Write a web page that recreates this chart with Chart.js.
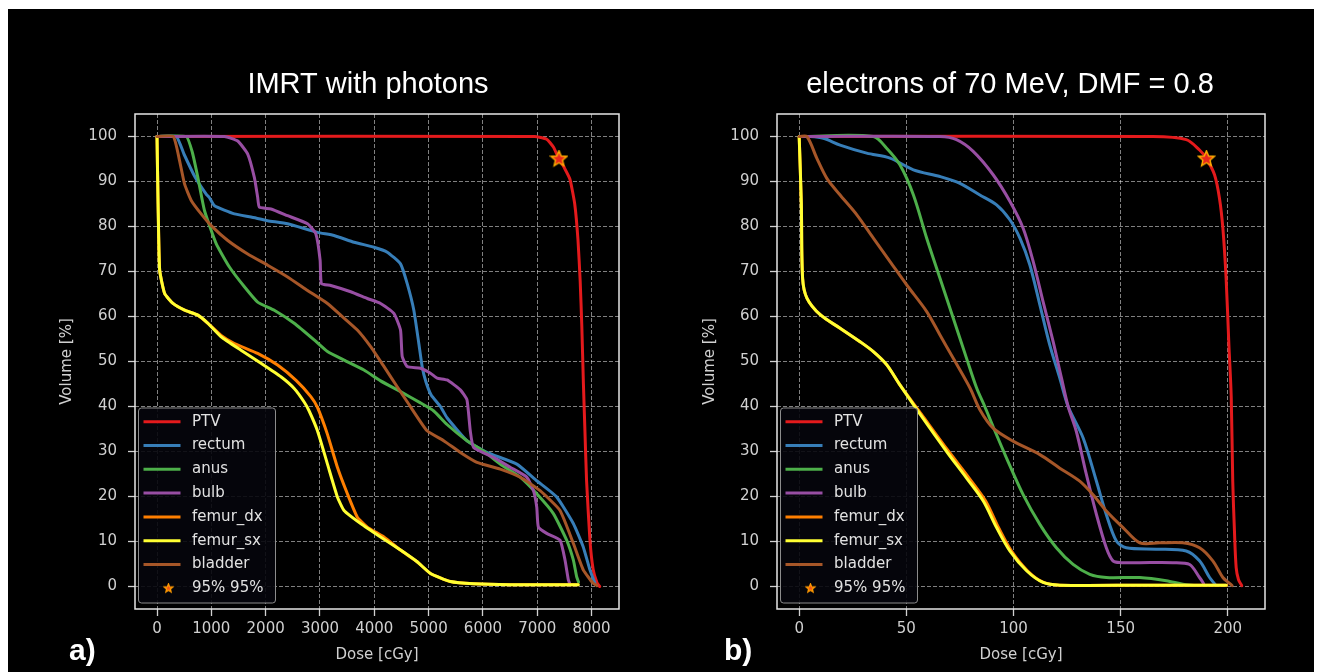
<!DOCTYPE html>
<html>
<head>
<meta charset="utf-8">
<title>DVH: IMRT photons vs 70 MeV electrons</title>
<script src="https://cdn.jsdelivr.net/npm/chart.js@4.4.1/dist/chart.umd.min.js"></script>
<style>
  html, body { margin: 0; padding: 0; background: #fff; overflow: hidden; }
  #frame { position: absolute; left: 8px; top: 9px; width: 1306px; height: 663px; background: #000; }
  canvas { position: absolute; }
  #chartA { left: 10px; top: 10px; }
  #chartB { left: 700px; top: 10px; }
  .tag { position: absolute; color: #fff; font: bold 30px "Liberation Sans", Arial, sans-serif; line-height: 30px; }
</style>
</head>
<body>
<div id="frame"></div>
<canvas id="chartA" width="716" height="662"></canvas>
<canvas id="chartB" width="620" height="662"></canvas>
<div class="tag" style="left:69px;top:635px">a)</div>
<div class="tag" style="left:724px;top:635px">b)</div>
<script>
// organs and colours (same in both panels)
const organs = ['PTV', 'rectum', 'anus', 'bulb', 'femur_dx', 'femur_sx', 'bladder'];
const organColors = ['#e41a1c', '#377eb8', '#4daf4a', '#984ea3', '#ff7f00', '#ffff33', '#a65628'];
const starLabel = '95% 95%';

// tick labels
const volumeTicks = [0, 10, 20, 30, 40, 50, 60, 70, 80, 90, 100];
const doseTicksA = [0, 1000, 2000, 3000, 4000, 5000, 6000, 7000, 8000];
const doseTicksB = [0, 50, 100, 150, 200];

// a) IMRT with photons -- dose [cGy], volume [%]
const ptvDoseA = [0, 6950, 7174, 7300, 7390, 7500, 7602, 7690, 7750, 7790, 7820, 7850, 7878, 7908, 7970, 8030, 8100, 8150];
const ptvVolA = [100, 100, 99.4, 97.6, 95.3, 93, 90.5, 85, 77, 68, 58, 45, 34.5, 23.5, 10.3, 3.7, 0.8, 0];
const rectumDoseA = [0, 355, 500, 700, 905, 960, 1058, 1425, 1731, 2037, 2404, 2954, 3260, 3627, 3994, 4239, 4483, 4606, 4728, 4820, 4881, 4950, 5050, 5217, 5339, 5706, 6073, 6624, 6991, 7358, 7664, 7847, 7970, 8062];
const rectumVolA = [100, 100, 96, 91, 87.2, 86.5, 84.6, 82.8, 82.1, 81.3, 80.6, 78.7, 78, 76.5, 75.4, 74.3, 71.7, 67.3, 61.4, 54, 48.9, 45.5, 42.5, 40, 37.5, 32.4, 29.8, 27.2, 23.5, 19.9, 14, 8.8, 3.7, 0.7];
const anusDoseA = [0, 538, 650, 752, 875, 1089, 1333, 1609, 1853, 2159, 2526, 2893, 3138, 3443, 3810, 4116, 4483, 4850, 5095, 5339, 5706, 6012, 6318, 6685, 6991, 7297, 7541, 7664, 7725, 7760];
const anusVolA = [100, 100, 96.5, 90.9, 83.5, 76.2, 71, 66.6, 63.2, 61.4, 58.5, 54.8, 52.2, 50.3, 48.1, 45.7, 43.3, 40.8, 39, 36, 32.4, 30.1, 27.2, 24.3, 20.6, 16.2, 10.3, 5.9, 2.2, 1];
const bulbDoseA = [0, 1242, 1486, 1670, 1792, 1853, 1884, 2098, 2404, 2771, 2924, 3003, 3027, 3199, 3566, 3872, 4116, 4361, 4483, 4514, 4606, 4850, 5034, 5156, 5339, 5584, 5706, 5767, 5829, 6196, 6502, 6807, 6930, 6991, 7021, 7174, 7419, 7511, 7572, 7600];
const bulbVolA = [100, 100, 99, 96.1, 90.9, 86.5, 84.3, 83.9, 82.4, 80.6, 78.4, 72.5, 67.3, 66.9, 65.5, 64, 62.9, 60.7, 57, 51.1, 48.9, 48.5, 47.4, 46.3, 45.9, 43.7, 41.5, 34.6, 30.9, 28.7, 26.5, 24.3, 21.3, 17.6, 13.2, 11.8, 10.3, 5.9, 1.5, 0.5];
const femurDxDoseA = [0, 20, 49, 141, 294, 508, 752, 936, 1180, 1425, 1853, 2220, 2560, 2832, 2954, 3138, 3321, 3505, 3688, 3872, 4177, 4483, 4789, 5034, 5401, 5829, 6500, 7750];
const femurDxVolA = [100, 85, 70.3, 65.1, 62.9, 61.4, 60.3, 58.5, 55.8, 54, 51.8, 49.2, 45.8, 42.2, 39.8, 33.8, 26.5, 20.6, 15.4, 13.2, 11, 8.1, 5.5, 2.9, 1.1, 0.6, 0.4, 0.4];
const femurSxDoseA = [0, 20, 49, 141, 294, 508, 752, 936, 1180, 1547, 1914, 2281, 2526, 2709, 2801, 2954, 3138, 3321, 3443, 3749, 4116, 4483, 4789, 5034, 5401, 5829, 6500, 7755];
const femurSxVolA = [100, 85, 70.3, 65.1, 62.9, 61.4, 60.3, 58.5, 55.5, 52.5, 49.6, 46.6, 44, 41, 39, 34.6, 27.2, 19.9, 16.9, 14, 11, 8.1, 5.5, 2.9, 1.1, 0.6, 0.4, 0.4];
const bladderDoseA = [0, 300, 416, 508, 630, 813, 997, 1303, 1670, 2037, 2404, 2771, 3138, 3382, 3688, 3933, 4177, 4422, 4636, 4972, 5278, 5584, 5890, 6318, 6685, 7052, 7419, 7664, 7847, 8030, 8100];
const bladderVolA = [100, 100, 94.6, 89.4, 85.8, 82.8, 80.2, 76.9, 73.9, 71.4, 68.8, 65.8, 62.9, 60.3, 57, 53.3, 48.9, 44.4, 40.5, 34.6, 32.4, 29.8, 27.6, 26.1, 24.3, 21.3, 16.9, 9.6, 3.7, 0.7, 0.2];
const starA = [7400, 95];

// b) electrons of 70 MeV, DMF = 0.8
const ptvDoseB = [0, 165, 180.6, 186.8, 189.9, 193.8, 196.1, 197.7, 199.2, 200.5, 201.6, 202.3, 203.1, 203.9, 205, 206.5];
const ptvVolB = [100, 100, 99.3, 97, 95.2, 91.5, 86.3, 79.6, 68.5, 53.7, 42, 23.4, 12.3, 4.2, 1.5, 0.2];
const rectumDoseB = [0, 5, 11.3, 19.1, 31.5, 42.4, 53.3, 65.7, 75, 84.3, 92.1, 98.3, 103, 107.6, 112.3, 116.9, 121.6, 125.5, 132.5, 138.7, 143.3, 148, 152.6, 166.6, 180.6, 186.8, 191.5, 194];
const rectumVolB = [100, 100, 99.6, 98.1, 96.3, 95.2, 92.6, 91.1, 89.6, 87, 84.8, 81.5, 77.4, 71.5, 62.6, 53.7, 46.3, 40, 33, 23.4, 16, 10.1, 8.6, 8.3, 7.9, 5.7, 2, 0.5];
const anusDoseB = [0, 34.6, 40.8, 47, 53.3, 59.5, 65.7, 71.9, 78.1, 82.8, 86.6, 90.5, 96.7, 104.5, 112.3, 120, 127.8, 135.6, 143.3, 158.9, 171.3, 179, 185];
const anusVolB = [100, 100, 97.4, 93.7, 87, 77.4, 68.5, 59.6, 50.7, 44.1, 40, 35.5, 28.6, 20.4, 13.8, 8.6, 4.9, 2.7, 2, 2, 1.3, 0.5, 0.2];
const bulbDoseB = [0, 65.7, 73.4, 81.2, 90.5, 98.3, 104.5, 109.2, 113.8, 118.5, 122.4, 125.5, 129.3, 134, 138.7, 143.3, 146.4, 150, 158.9, 174.4, 182.2, 186.8, 188.4, 189];
const bulbVolB = [100, 100, 99.3, 96.7, 91.5, 85.6, 79.6, 72.2, 63.3, 54.4, 46.3, 40, 34.5, 24.9, 16, 8.6, 5.7, 5.3, 5.3, 5.3, 4.9, 2, 0.9, 0.3];
const femurDxDoseB = [0, 1, 1.6, 3.6, 9.8, 19.1, 28.4, 34.6, 40.8, 47, 57, 69.8, 79.3, 87, 93, 99, 106.5, 114, 121.6, 160, 199.5];
const femurDxVolB = [100, 85, 68.5, 64.1, 60.4, 57.4, 54.4, 52.2, 49.3, 44.8, 38.3, 30, 24.1, 19, 13.1, 7.9, 3.5, 0.9, 0.3, 0.3, 0.3];
const femurSxDoseB = [0, 1, 1.6, 3.6, 9.8, 19.1, 28.4, 34.6, 40.8, 47, 56.4, 68.8, 78.1, 85.9, 92.1, 98.3, 106.1, 113.8, 121.6, 160, 199.2];
const femurSxVolB = [100, 85, 68.5, 64.1, 60.4, 57.4, 54.4, 52.2, 49.3, 44.8, 38.3, 30, 24.1, 19, 13.1, 7.9, 3.5, 0.9, 0.3, 0.3, 0.3];
const bladderDoseB = [0, 3.6, 8.2, 12.9, 19.1, 26.9, 34.6, 42.4, 50.2, 59.5, 65.7, 71.9, 79.7, 84.3, 90.5, 99.8, 112.3, 121.6, 130.9, 137.1, 143.3, 151.1, 158.9, 168.2, 179, 186.8, 193, 197.7, 200.8, 202];
const bladderVolB = [100, 100, 95.2, 90.7, 87, 82.6, 77.4, 72.2, 67, 61.1, 55.9, 50.7, 44.1, 39.3, 35.2, 32.3, 29.3, 26.3, 23.4, 20.4, 16.8, 13.1, 9.7, 9.7, 9.7, 8.6, 5.7, 2, 0.7, 0.2];
const starB = [190, 95];

// star marker drawn once into a small canvas, used as point style
function starImage(size, fill, edge) {
  const c = document.createElement('canvas');
  c.width = c.height = size;
  const g = c.getContext('2d');
  const r = size / 2 - 1.2, ri = r * 0.45;
  g.beginPath();
  for (let k = 0; k < 10; k++) {
    const a = -Math.PI / 2 + k * Math.PI / 5;
    const rr = k % 2 ? ri : r;
    g.lineTo(size / 2 + rr * Math.cos(a), size / 2 + rr * Math.sin(a));
  }
  g.closePath();
  g.fillStyle = fill;
  g.fill();
  g.lineWidth = 1.4;
  g.strokeStyle = edge;
  g.stroke();
  return c;
}
const plotStar = starImage(19, '#e8261c', '#ffb000');
const legendStar = starImage(11, '#f0501a', '#ff9a00');

function curve(dose, vol) {
  return dose.map((d, i) => ({ x: d, y: vol[i] }));
}

function buildDatasets(series, star, tension) {
  const sets = series.map((s, i) => ({
    label: organs[i],
    data: curve(s[0], s[1]),
    borderColor: organColors[i],
    backgroundColor: organColors[i],
    borderWidth: 3,
    pointRadius: 0,
    tension: tension,
    borderJoinStyle: 'round',
    borderCapStyle: 'round',
    order: organs.length - i   // later organs drawn on top, like the original
  }));
  sets.push({
    label: starLabel,
    data: [{ x: star[0], y: star[1] }],
    showLine: false,
    pointStyle: plotStar,
    pointRadius: 8,
    order: 0
  });
  return sets;
}

// full box round the plot area
const axesFrame = {
  id: 'axesFrame',
  afterDatasetsDraw(chart) {
    const { ctx, chartArea: a } = chart;
    ctx.save();
    ctx.strokeStyle = '#e6e6e6';
    ctx.lineWidth = 1.5;
    ctx.strokeRect(a.left, a.top, a.right - a.left, a.bottom - a.top);
    ctx.restore();
  }
};

// legend in the lower left corner of the plot area
const boxLegend = {
  id: 'boxLegend',
  afterDraw(chart) {
    const { ctx, chartArea } = chart;
    const w = 137, h = 195;
    const x0 = chartArea.left + 3.5, y0 = chartArea.bottom - 6 - h;
    ctx.save();
    ctx.beginPath();
    if (ctx.roundRect) ctx.roundRect(x0, y0, w, h, 3); else ctx.rect(x0, y0, w, h);
    ctx.fillStyle = 'rgba(6,6,12,0.9)';
    ctx.fill();
    ctx.strokeStyle = '#8c8c8c';
    ctx.lineWidth = 1;
    ctx.stroke();
    ctx.font = '15px "DejaVu Sans"';
    ctx.textBaseline = 'middle';
    chart.data.datasets.forEach((ds, i) => {
      const y = y0 + 13.7 + i * 23.8;
      if (ds.showLine === false) {
        ctx.drawImage(legendStar, x0 + 30 - legendStar.width / 2, y - legendStar.height / 2);
      } else {
        ctx.beginPath();
        ctx.moveTo(x0 + 5, y);
        ctx.lineTo(x0 + 42, y);
        ctx.strokeStyle = ds.borderColor;
        ctx.lineWidth = 3;
        ctx.stroke();
      }
      ctx.fillStyle = '#e2e2e2';
      ctx.fillText(ds.label, x0 + 53.5, y);
    });
    ctx.restore();
  }
};

// yWidth: left axis width, rightGap: empty axis on the right so the title sits where it should
function dvhOptions(title, xMin, xMax, xTicks, yWidth, rightGap, yTitlePad) {
  const tickFont = { family: 'DejaVu Sans', size: 15 };
  const grid = {
    color: 'rgba(255,255,255,0.5)', lineWidth: 1,
    tickColor: '#d0d0d0', tickLength: 7, tickWidth: 1.3, tickBorderDash: []
  };
  return {
    responsive: false,
    animation: false,
    devicePixelRatio: 1,
    layout: { padding: 0 },
    plugins: {
      legend: { display: false },
      tooltip: { enabled: false },
      title: {
        display: true, text: title, color: '#ffffff',
        font: { family: 'Liberation Sans', size: 29, weight: 'normal', lineHeight: 1.2 },
        padding: { top: 57.1, bottom: 12.1 }
      }
    },
    scales: {
      x: {
        type: 'linear', min: xMin, max: xMax,
        afterBuildTicks: s => { s.ticks = xTicks.map(v => ({ value: v })); },
        afterFit: s => { s.height = 63; },
        ticks: { color: '#d0d0d0', font: tickFont, padding: 4, maxRotation: 0, autoSkip: false, includeBounds: false, callback: v => String(v) },
        grid: grid,
        border: { display: false, dash: [4, 2] },
        title: { display: true, text: 'Dose [cGy]', color: '#d0d0d0', font: tickFont, padding: { top: 0, bottom: 8 } }
      },
      y: {
        type: 'linear', min: -5, max: 105,
        afterBuildTicks: s => { s.ticks = volumeTicks.map(v => ({ value: v })); },
        afterFit: s => { s.width = yWidth; },
        ticks: { color: '#d0d0d0', font: tickFont, padding: 11, autoSkip: false, includeBounds: false, callback: v => String(v) },
        grid: grid,
        border: { display: false, dash: [4, 2] },
        title: { display: true, text: 'Volume [%]', color: '#d0d0d0', font: tickFont, padding: { top: yTitlePad, bottom: 0 } }
      },
      gap: {
        type: 'linear', position: 'right', min: 0, max: 1,
        afterFit: s => { s.width = rightGap; },
        ticks: { display: false },
        grid: { display: false, drawTicks: false },
        border: { display: false }
      }
    }
  };
}

const seriesA = [
  [ptvDoseA, ptvVolA], [rectumDoseA, rectumVolA], [anusDoseA, anusVolA], [bulbDoseA, bulbVolA],
  [femurDxDoseA, femurDxVolA], [femurSxDoseA, femurSxVolA], [bladderDoseA, bladderVolA]
];
const seriesB = [
  [ptvDoseB, ptvVolB], [rectumDoseB, rectumVolB], [anusDoseB, anusVolB], [bulbDoseB, bulbVolB],
  [femurDxDoseB, femurDxVolB], [femurSxDoseB, femurSxVolB], [bladderDoseB, bladderVolB]
];

new Chart(document.getElementById('chartA'), {
  type: 'line',
  data: { datasets: buildDatasets(seriesA, starA, 0.15) },
  options: dvhOptions('IMRT with photons', -405, 8505, doseTicksA, 125, 107, 48.5),
  plugins: [axesFrame, boxLegend]
});

new Chart(document.getElementById('chartB'), {
  type: 'line',
  data: { datasets: buildDatasets(seriesB, starB, 0.3) },
  options: dvhOptions('electrons of 70 MeV, DMF = 0.8', -10.35, 217.35, doseTicksB, 77, 55, 1),
  plugins: [axesFrame, boxLegend]
});
</script>
</body>
</html>
